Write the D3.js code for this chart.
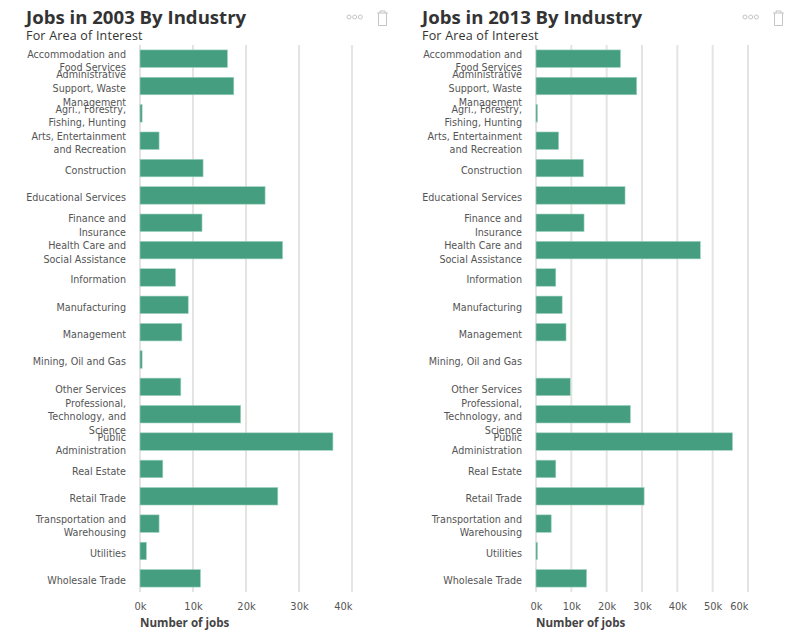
<!DOCTYPE html>
<html>
<head>
<meta charset="utf-8">
<script src="https://cdn.jsdelivr.net/npm/d3@7"></script>
<style>
  body { margin: 0; background: #fff; }
  svg { font-family: "Open Sans", sans-serif; }
  .title { font-size: 18.6px; font-weight: 700; fill: #333; }
  .subtitle { font-size: 12.5px; fill: #333; letter-spacing: 0.2px; }
  .cat { font-family: "DejaVu Sans", sans-serif; font-size: 9.6px; fill: #555; }
  .axis text { font-family: "DejaVu Sans", sans-serif; font-size: 9.9px; fill: #555; }
  .axis path, .axis line { display: none; }
  .axis-label { font-size: 11.6px; font-weight: 700; fill: #444; }
  .grid { stroke: #e6e4e1; stroke-width: 2; }
  .bar { fill: #459e7f; stroke: #9fd2bf; stroke-width: 0.6; }
  .icon { fill: none; stroke: #c4c4c4; stroke-width: 1; }
</style>
</head>
<body>
<svg id="chart" width="800" height="642"></svg>
<script>
// categories and values (jobs)
const categories = [
  "Accommodation and Food Services",
  "Administrative Support, Waste Management",
  "Agri., Forestry, Fishing, Hunting",
  "Arts, Entertainment and Recreation",
  "Construction",
  "Educational Services",
  "Finance and Insurance",
  "Health Care and Social Assistance",
  "Information",
  "Manufacturing",
  "Management",
  "Mining, Oil and Gas",
  "Other Services",
  "Professional, Technology, and Science",
  "Public Administration",
  "Real Estate",
  "Retail Trade",
  "Transportation and Warehousing",
  "Utilities",
  "Wholesale Trade"
];
const jobs2003 = [16500, 17700, 400, 3600, 11900, 23600, 11700, 26900, 6700, 9100,
  7900, 400, 7700, 19000, 36400, 4300, 26000, 3600, 1200, 11400];
const jobs2013 = [23900, 28500, 400, 6400, 13400, 25200, 13600, 46500, 5600, 7400,
  8500, 0, 9700, 26700, 55600, 5600, 30600, 4300, 400, 14300];
const panels = [
  {title: "Jobs in 2003 By Industry", values: jobs2003},
  {title: "Jobs in 2013 By Industry", values: jobs2013}
];
const subtitle = "For Area of Interest";
const axisTitle = "Number of jobs";

const svg = d3.select('#chart');
const panelW = 396;
const margin = {t:45, l:140, b:50};
const w = 212;
const h = 592 - margin.t;

function wrap(selection, width){
  selection.each(function(){
    const text = d3.select(this);
    const words = text.text().split(/\s+/);
    const lh = 13.6;
    text.text(null);
    const probe = text.append('tspan');
    const lines = [];
    let line = [];
    words.forEach(word => {
      line.push(word);
      probe.text(line.join(' '));
      if (probe.node().getComputedTextLength() > width && line.length > 1) {
        line.pop();
        lines.push(line.join(' '));
        line = [word];
      }
    });
    lines.push(line.join(' '));
    probe.remove();
    const off = -(lines.length - 1) / 2 * lh;
    lines.forEach((l, i) => {
      text.append('tspan')
        .attr('x', 0)
        .attr('y', off + i * lh)
        .attr('dy', '0.62em')
        .text(l);
    });
  });
}

function drawPanel(panel, i){
  const g = svg.append('g')
    .attr('transform', `translate(${i * panelW},0)`);

  g.append('text').attr('class','title')
    .attr('x', 26).attr('y', 24)
    .text(panel.title);
  g.append('text').attr('class','subtitle')
    .attr('x', 26).attr('y', 40)
    .text(subtitle);

  //menu + trash icons
  const icons = g.append('g').attr('transform','translate(349,17)');
  icons.selectAll('circle').data([0,1,2]).enter().append('circle')
    .attr('class','icon')
    .attr('cx', d => d * 5.7).attr('cy', 0).attr('r', 2);
  icons.append('path').attr('class','icon')
    .attr('d','M28,-4 h11 M31,-4 v-2 h5 v2 M29.5,-4 v12.5 h8 v-12.5');

  const plot = g.append('g')
    .attr('transform', `translate(${margin.l},${margin.t})`);

  const scaleX = d3.scaleLinear()
    .domain([0, d3.max(panel.values)])
    .range([0, w])
    .nice();
  const scaleY = d3.scaleBand()
    .domain(categories)
    .range([0, h])
    .paddingInner(0.36)
    .paddingOuter(0.18);

  const ticks = scaleX.ticks(5);

  //gridlines
  plot.selectAll('.grid')
    .data(ticks)
    .enter().append('line')
    .attr('class','grid')
    .attr('x1', d => scaleX(d)).attr('x2', d => scaleX(d))
    .attr('y1', 0).attr('y2', h);

  //bars
  plot.selectAll('.bar')
    .data(panel.values)
    .enter().append('rect')
    .attr('class','bar')
    .attr('x', 0)
    .attr('y', (d, j) => scaleY(categories[j]))
    .attr('width', d => scaleX(d))
    .attr('height', scaleY.bandwidth());

  //category labels
  plot.selectAll('.cat')
    .data(categories)
    .enter().append('text')
    .attr('class','cat')
    .attr('text-anchor','end')
    .attr('transform', d => `translate(-14,${scaleY(d) + scaleY.bandwidth() / 2})`)
    .text(d => d)
    .call(wrap, 101);

  //x axis
  const axisX = d3.axisBottom(scaleX)
    .tickValues(ticks)
    .tickSize(0)
    .tickPadding(0)
    .tickFormat(d => d / 1000 + 'k');
  const axisNode = plot.append('g')
    .attr('class','axis')
    .attr('transform', `translate(0,${h + 11})`)
    .call(axisX);
  axisNode.selectAll('.tick text')
    .filter((d, j, nodes) => j === nodes.length - 1)
    .attr('text-anchor','end');

  plot.append('text').attr('class','axis-label')
    .attr('x', 0).attr('y', h + 35)
    .text(axisTitle);
}

panels.forEach(drawPanel);
</script>
</body>
</html>
